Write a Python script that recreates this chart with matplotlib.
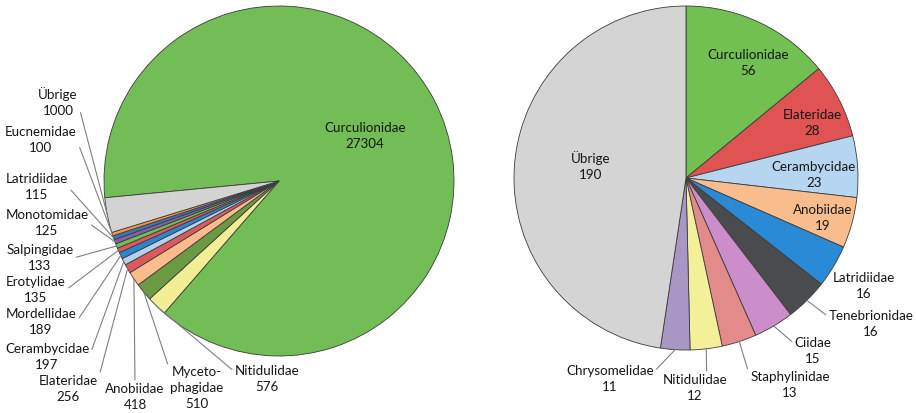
import numpy as np
import matplotlib
matplotlib.use('Agg')
import matplotlib.pyplot as plt

plt.rcParams['font.family'] = ['Lato', 'DejaVu Sans']

# left pie: all records
left_names = ['Curculionidae', 'Nitidulidae', 'Myceto-\nphagidae', 'Anobiidae', 'Elateridae',
              'Cerambycidae', 'Mordellidae', 'Erotylidae', 'Salpingidae', 'Monotomidae',
              'Latridiidae', 'Eucnemidae', 'Übrige']
left_values = [27304, 576, 510, 418, 256, 197, 189, 135, 133, 125, 115, 100, 1000]
left_colors = ['#72BD55', '#F2EE94', '#6A9A42', '#F9BC8A', '#DC5A5A', '#B4D2EE', '#2B86CF',
               '#DC5A5A', '#72BD55', '#8064A2', '#3F74B8', '#F79646', '#D3D3D3']

# right pie: species
right_names = ['Curculionidae', 'Elateridae', 'Cerambycidae', 'Anobiidae', 'Latridiidae',
               'Tenebrionidae', 'Ciidae', 'Staphylinidae', 'Nitidulidae', 'Chrysomelidae', 'Übrige']
right_values = [56, 28, 23, 19, 16, 16, 15, 13, 12, 11, 190]
right_colors = ['#72BF52', '#E05353', '#B6D5F0', '#F9BD8D', '#2A8AD5', '#4A4B4D', '#CC8DCB',
                '#E38B8B', '#F4F09A', '#A896C4', '#D4D4D4']

# label layout, figure pixels from top-left: (x, y, leader start relpos or None)
left_layout = [(365, 136, None), (267, 379, (0, 0.75)), (197, 388, (0, 0.85)), (135, 397, (0.5, 1)),
               (68, 389, (1, 0.75)), (47, 357, (1, 0.5)), (41, 322, (1, 0.5)), (36, 290, (1, 0.5)),
               (40, 258, (1, 0.5)), (47, 223, (1, 0.5)), (37, 187, (1, 0.5)), (41, 140, (1, 0.5)),
               (58, 102, (1, 0.5))]
right_layout = [(748, 63, None), (812, 123, None), (814, 175, None), (823, 218, None),
                (864, 286, None), (871, 324, (0, 0.75)), (813, 351, (0, 0.75)), (790, 385, (0, 0.75)),
                (695, 388, (0.68, 1)), (610, 379, (1, 0.75)), (591, 166, None)]

W, H = 916, 413
FS = 9.6
fig = plt.figure(figsize=(W / 100, H / 100), dpi=100)


def draw_pie(rect, cx, cy, r, values, names, colors, layout, start):
    x0 = rect[0] * W
    ax = fig.add_axes(rect)
    wedges, _ = ax.pie(values, colors=colors, startangle=start, counterclock=False, radius=1,
                       wedgeprops=dict(edgecolor='#3c3c3c', linewidth=0.6))
    ax.set_aspect('auto')
    w = rect[2] * W
    ax.set_xlim(-(cx - x0) / r, (x0 + w - cx) / r)
    ax.set_ylim((cy - H) / r, cy / r)
    ax.axis('off')
    for wdg, name, val, (tx, ty, rel) in zip(wedges, names, values, layout):
        txt = f'{name}\n{val}'
        if rel is None:
            ax.annotate(txt, xy=(tx, H - ty), xycoords='figure pixels', ha='center', va='center',
                        fontsize=FS, color='#161616', linespacing=1.45)
        else:
            mid = np.deg2rad((wdg.theta1 + wdg.theta2) / 2)
            ax.annotate(txt, xy=(np.cos(mid), np.sin(mid)), xytext=(tx, H - ty),
                        textcoords='figure pixels', ha='center', va='center',
                        fontsize=FS, color='#161616', linespacing=1.45,
                        arrowprops=dict(arrowstyle='-', color='#808080', lw=0.8,
                                        shrinkA=0, shrinkB=0, relpos=rel))


draw_pie([0, 0, 0.5, 1], 279, 181, 175, left_values, left_names, left_colors, left_layout, 185.5)
draw_pie([0.5, 0, 0.5, 1], 686, 178, 172, right_values, right_names, right_colors, right_layout, 90)

fig.savefig('out.png', dpi=100)
